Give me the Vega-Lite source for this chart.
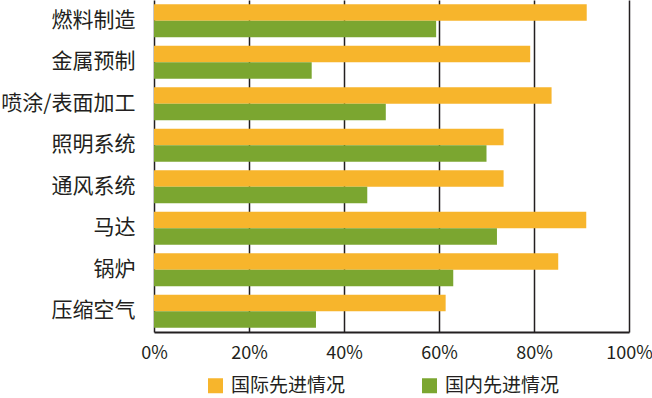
{
  "$schema": "https://vega.github.io/schema/vega-lite/v6.json",
  "width": 475,
  "height": 332,
  "autosize": {"type": "none"},
  "padding": {"left": 154, "top": 0, "right": 23, "bottom": 66},
  "background": "white",
  "config": {
    "view": {"stroke": null},
    "font": "Noto Sans CJK SC",
    "axis": {"labelFont": "Noto Sans CJK SC", "labelColor": "#231f20"},
    "legend": {"labelFont": "Noto Sans CJK SC", "labelColor": "#231f20"}
  },
  "data": {
    "values": [
      {"category": "燃料制造", "series": "国际先进情况", "value": 91.1},
      {"category": "燃料制造", "series": "国内先进情况", "value": 59.4},
      {"category": "金属预制", "series": "国际先进情况", "value": 79.2},
      {"category": "金属预制", "series": "国内先进情况", "value": 33.2},
      {"category": "喷涂/表面加工", "series": "国际先进情况", "value": 83.7},
      {"category": "喷涂/表面加工", "series": "国内先进情况", "value": 48.8},
      {"category": "照明系统", "series": "国际先进情况", "value": 73.6},
      {"category": "照明系统", "series": "国内先进情况", "value": 70.0},
      {"category": "通风系统", "series": "国际先进情况", "value": 73.6},
      {"category": "通风系统", "series": "国内先进情况", "value": 44.9},
      {"category": "马达", "series": "国际先进情况", "value": 91.0},
      {"category": "马达", "series": "国内先进情况", "value": 72.2},
      {"category": "锅炉", "series": "国际先进情况", "value": 85.1},
      {"category": "锅炉", "series": "国内先进情况", "value": 63.0},
      {"category": "压缩空气", "series": "国际先进情况", "value": 61.4},
      {"category": "压缩空气", "series": "国内先进情况", "value": 34.1}
    ]
  },
  "mark": {"type": "bar"},
  "encoding": {
    "y": {
      "field": "category",
      "type": "nominal",
      "sort": null,
      "scale": {"paddingInner": 0.2, "paddingOuter": 0.1},
      "axis": {
        "title": null,
        "domain": false,
        "ticks": false,
        "labelFontSize": 21,
        "labelPadding": 19
      }
    },
    "yOffset": {
      "field": "series",
      "type": "nominal",
      "sort": ["国际先进情况", "国内先进情况"]
    },
    "x": {
      "field": "value",
      "type": "quantitative",
      "scale": {"domain": [0, 100], "nice": false},
      "axis": {
        "title": null,
        "values": [0, 20, 40, 60, 80, 100],
        "labelExpr": "datum.value + '%'",
        "grid": true,
        "gridColor": "#231f20",
        "gridWidth": 1.5,
        "gridOpacity": 1,
        "domain": true,
        "domainColor": "#231f20",
        "domainWidth": 2,
        "ticks": false,
        "labelFontSize": 18,
        "labelPadding": 12,
        "labelFlush": false
      }
    },
    "color": {
      "field": "series",
      "type": "nominal",
      "sort": ["国际先进情况", "国内先进情况"],
      "scale": {
        "domain": ["国际先进情况", "国内先进情况"],
        "range": ["#F7B52C", "#7BA630"]
      },
      "legend": {
        "title": null,
        "orient": "none",
        "direction": "horizontal",
        "legendX": 52,
        "legendY": 376,
        "symbolType": "square",
        "symbolSize": 225,
        "symbolStrokeWidth": 0,
        "labelFontSize": 19,
        "labelOffset": 6,
        "columnPadding": 74
      }
    }
  }
}
